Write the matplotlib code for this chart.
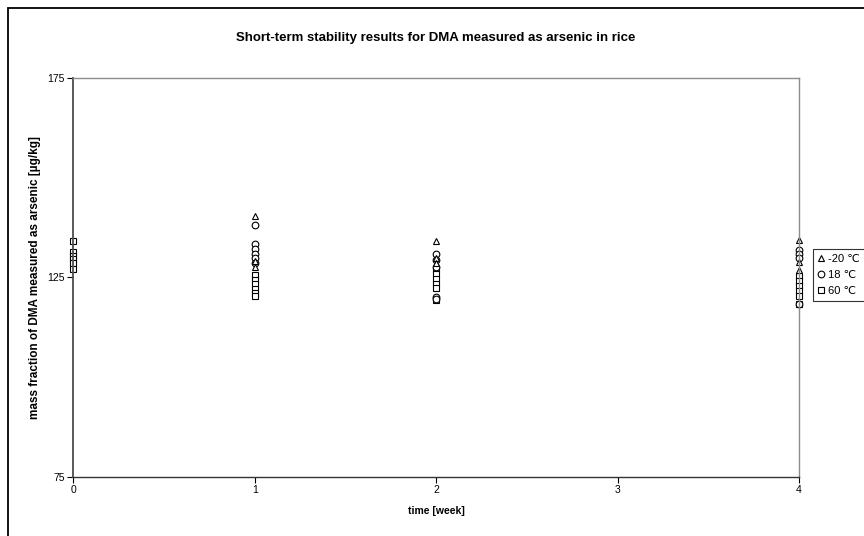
import matplotlib
matplotlib.use('Agg')
import matplotlib.pyplot as plt
from matplotlib.patches import Rectangle

plt.rcParams['font.family'] = ['Liberation Sans', 'DejaVu Sans']

# values (µg/kg), grouped by week
weeks = [0, 1, 2, 4]
minus20 = {
    1: [140.3, 129.0, 127.5],
    2: [134.0, 129.7, 128.5],
    4: [134.4, 128.7, 126.8],
}
plus18 = {
    1: [138.0, 133.2, 132.0, 130.8, 129.8, 128.5],
    2: [130.8, 129.3, 127.5, 120.0, 119.5],
    4: [131.9, 130.9, 129.9, 118.3],
}
plus60 = {
    0: [134.0, 131.2, 130.3, 129.5, 128.5, 127.0],
    1: [125.5, 124.3, 123.2, 122.1, 121.0, 120.3],
    2: [127.0, 125.8, 124.6, 123.4, 122.2, 119.2],
    4: [125.3, 124.0, 122.8, 121.5, 120.3, 118.3],
}
labels = ['-20 ℃', '18 ℃', '60 ℃']
markers = ['^', 'o', 's']


def flatten(d):
    xs, ys = [], []
    for w, vals in d.items():
        xs += [w] * len(vals)
        ys += vals
    return xs, ys


fig = plt.figure(figsize=(8.64, 5.36), dpi=100)
ax = fig.add_axes([73.3 / 864, 1 - 476.7 / 536, (799 - 73.3) / 864, (476.7 - 77.7) / 536])

handles = []
for d, m, lab in zip([plus60, plus18, minus20], markers[::-1], labels[::-1]):
    xs, ys = flatten(d)
    h, = ax.plot(xs, ys, linestyle='none', marker=m, markersize=4.8,
                 markerfacecolor='white', markeredgecolor='black',
                 markeredgewidth=0.8, label=lab, clip_on=False)
    handles.append(h)
handles = handles[::-1]

ax.set_xlim(0, 4)
ax.set_ylim(75, 175)
ax.set_xticks([0, 1, 2, 3, 4])
ax.set_yticks([75, 125, 175])
ax.tick_params(direction='out', length=4, width=0.8, labelsize=7.5, pad=2)

for s in ['top', 'right']:
    ax.spines[s].set_color('#8c8c8c')
    ax.spines[s].set_linewidth(1.0)
ax.spines['left'].set_color('#4d4d4d')
ax.spines['left'].set_linewidth(1.3)
ax.spines['bottom'].set_color('#333333')
ax.spines['bottom'].set_linewidth(1.0)

ax.set_xlabel('time [week]', fontsize=7.5, fontweight='bold', labelpad=8)
ax.set_ylabel('mass fraction of DMA measured as arsenic [µg/kg]', fontsize=8.5,
              fontweight='bold', labelpad=5)
fig.text(0.5 * (73.3 + 799) / 864, 1 - 38 / 536,
         'Short-term stability results for DMA measured as arsenic in rice',
         ha='center', va='center', fontsize=9.5, fontweight='bold')

leg = fig.legend(handles=handles, labels=labels, loc='upper left',
                 bbox_to_anchor=(813 / 864, 1 - 249 / 536), fontsize=8,
                 frameon=True, fancybox=False, handlelength=0.6,
                 handletextpad=0.3, borderpad=0.45, labelspacing=0.55,
                 borderaxespad=0)
leg.get_frame().set_edgecolor('black')
leg.get_frame().set_linewidth(0.8)

# outer chart frame (cropped at right and bottom)
fig.patches.append(Rectangle((8 / 864, -0.1), 1.2, 1.1 - 8 / 536,
                             transform=fig.transFigure, fill=False,
                             edgecolor='black', linewidth=1.3))

fig.savefig('out.png', dpi=100)
